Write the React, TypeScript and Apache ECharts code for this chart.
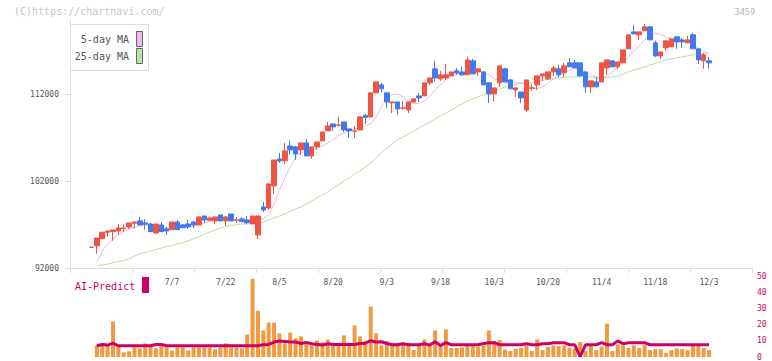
import React, { useEffect, useRef } from "react";
import * as echarts from "echarts";

const dates = [
  "6/16","6/17","6/18","6/19","6/20","6/23","6/24","6/25","6/26","6/27",
  "6/30","7/1","7/2","7/3","7/4","7/7","7/8","7/9","7/10","7/11",
  "7/14","7/15","7/16","7/17","7/18","7/22","7/23","7/24","7/25","7/28",
  "7/29","7/30","7/31","8/1","8/4","8/5","8/6","8/7","8/8","8/12",
  "8/13","8/14","8/15","8/18","8/19","8/20","8/21","8/22","8/25","8/26",
  "8/27","8/28","8/29","9/1","9/2","9/3","9/4","9/5","9/8","9/9",
  "9/10","9/11","9/12","9/16","9/17","9/18","9/19","9/22","9/24","9/25",
  "9/26","9/29","9/30","10/1","10/2","10/3","10/6","10/7","10/8","10/9",
  "10/10","10/14","10/15","10/16","10/17","10/20","10/21","10/22","10/23","10/24",
  "10/27","10/28","10/29","10/30","10/31","11/4","11/5","11/6","11/7","11/10",
  "11/11","11/12","11/13","11/14","11/17","11/18","11/19","11/20","11/21","11/25",
  "11/26","11/27","11/28","12/1","12/2","12/3"
];
const tickLabels = ["7/7","7/22","8/5","8/20","9/3","9/18","10/3","10/20","11/4","11/18","12/3"];
const priceLabels = [92000, 102000, 112000];

const opens = [
  94380,94560,95370,96110,96180,96260,96540,96720,97140,97410,
  97180,97060,96030,96950,96490,96400,97290,96950,97060,97290,
  96950,97980,97490,97410,98100,97410,98210,97490,97640,97520,
  97060,95800,99020,98900,101430,104540,104310,106030,105920,105570,
  106380,104880,105920,106610,107760,108560,108410,108790,107990,107720,
  107870,109540,109370,112130,113050,112130,110980,111090,110370,110170,
  111090,111780,111780,113280,114890,113740,113850,114080,114660,114540,
  114200,115810,114540,114540,113280,112010,113280,114890,113620,112470,
  112240,110170,112670,113050,114080,113740,114540,114890,114430,115580,
  115580,115580,114540,112820,113390,113390,115000,115810,115120,115580,
  117190,119140,118800,119260,119720,117880,116380,117300,117420,118570,
  118220,117880,118800,117190,115810,115810
];
const closes = [
  94400,95450,96110,96260,96370,96600,96600,97180,97290,96950,
  97030,96180,97060,96180,96260,97290,96400,96630,96720,96950,
  97870,97520,97750,97870,97410,97870,97410,97520,97320,97210,
  97980,97980,98670,101660,104420,104310,105460,105570,105110,106380,
  104880,105920,106490,107640,108330,108220,108450,107870,107760,107760,
  109370,109310,112130,113390,112590,111090,111090,110290,110400,111090,
  111440,111550,113280,113850,113850,114200,114200,114540,114430,114200,
  115920,114310,114890,113050,112010,112700,115230,113390,112590,112700,
  111550,113620,112700,114080,114310,114540,115000,114200,115230,115120,
  115000,114080,112820,113510,112820,115580,115920,115120,115690,117070,
  118800,118910,119140,119720,118220,116380,116840,118110,118340,117990,
  117990,118220,117190,115920,116500,115580
];
const lows = [
  94380,93640,95340,95600,95140,95830,96140,96490,96520,96950,
  96400,96140,95910,96180,95800,96400,96400,96600,96490,96600,
  96950,97180,97410,97060,97410,96830,97410,97180,97320,97060,
  97060,95340,98440,98670,100510,104080,103960,105000,104420,105000,
  104880,104540,105570,106610,107760,107760,108220,107640,106950,106950,
  107870,108560,109370,112130,112130,110400,109830,109600,110170,109830,
  110980,111090,111780,113050,113390,113510,113620,114080,114200,114080,
  114200,114310,114080,113050,110980,111090,112820,113390,112590,111670,
  110980,109940,112360,112470,113510,113620,114080,113970,113970,115120,
  115000,114080,112130,112130,112820,113390,114200,115120,114890,115580,
  117190,118910,118220,119260,118220,116270,116040,116960,117420,117190,
  117300,117880,117190,115460,114890,114890
];
const highs = [
  94400,95450,96140,96260,96370,97060,97060,97180,97290,97870,
  97640,97180,97060,97290,96720,97290,97520,97060,97520,97410,
  97870,97980,97870,97870,98100,97980,98210,97870,97870,97980,
  97980,97980,99590,101780,104420,105230,106380,106610,106030,106380,
  106840,105920,106490,107640,108790,108560,109370,108790,107990,108330,
  109370,109710,112240,113390,113280,112130,111090,111090,111210,111090,
  111440,112130,113280,113850,115810,114660,115460,114540,115000,115120,
  116270,116040,114890,114540,113280,112700,115230,115000,113740,112700,
  112240,113620,113160,114080,114310,114540,115230,115350,115580,116150,
  115920,115580,114540,113510,113970,115580,115920,115810,115690,117070,
  118800,119950,119140,120060,119720,118110,116840,118110,118340,118570,
  118450,118680,119030,117190,116730,116270
];

const ma5 = [
  null,92690,93955,94760,95335,95795,96255,96485,96660,96830,
  96945,96890,96770,96660,96600,96600,96600,96660,96715,96830,
  96945,97175,97350,97520,97580,97635,97635,97580,97520,97520,
  97580,97580,97690,98210,99360,100970,102350,103615,104650,105225,
  105455,105630,105800,106030,106375,106720,107180,107525,107810,107985,
  108160,108330,108560,109365,110515,111435,111895,112010,111665,111205,
  110920,110920,111205,111780,112470,113045,113620,113965,114310,114425,
  114540,114600,114715,114540,114195,113735,113560,113390,113275,113275,
  113275,113045,112700,112585,112815,113275,113735,114080,114425,114715,
  115000,114885,114540,114195,113965,113850,114080,114540,115115,115690,
  116265,116955,117530,118220,118680,119025,118795,118565,118335,118220,
  118105,117990,117645,117300,116900,116725
];
const ma25 = [
  null,92230,92345,92460,92575,92750,92860,93035,93380,93610,
  93780,93955,94130,94300,94470,94590,94760,94930,95105,95335,
  95565,95910,96140,96370,96600,96770,96890,97000,97060,97060,
  97120,97175,97290,97520,97750,97980,98210,98500,98785,99015,
  99360,99705,100050,100395,100740,101200,101545,102005,102350,102810,
  103155,103615,104075,104650,105225,105800,106260,106720,107065,107410,
  107755,108100,108445,108790,109135,109480,109825,110170,110515,110860,
  111205,111435,111665,111895,112125,112355,112585,112815,112990,113100,
  113220,113275,113330,113450,113560,113680,113735,113850,113910,113965,
  113965,113965,113965,113910,113850,113850,113910,113965,114080,114310,
  114540,114770,114940,115115,115345,115520,115690,115920,116035,116150,
  116265,116380,116495,116610,116670,116725
];

const volumes = [
  null,7.2,8.0,7.2,22.0,6.4,2.9,3.5,6.0,5.4,
  8.5,6.8,5.4,7.2,6.0,4.1,6.0,6.0,4.1,6.0,
  6.0,6.0,6.0,4.8,6.0,8.5,6.0,6.0,5.4,14.0,
  48.6,28.8,16.5,21.4,21.4,14.6,8.5,15.2,11.5,12.8,
  9.7,7.2,10.3,9.1,10.9,7.2,7.2,13.4,7.2,19.6,
  12.8,9.7,31.3,14.6,7.2,9.9,8.8,8.8,8.8,8.8,
  4.3,7.2,10.9,7.2,16.5,7.2,17.1,5.6,5.6,6.0,
  6.8,7.6,6.4,7.2,16.5,9.9,10.5,4.7,3.7,5.1,
  5.6,7.2,3.7,10.9,4.3,6.2,7.2,6.8,7.2,5.8,
  5.3,9.3,3.7,6.8,4.3,6.4,20.8,3.7,7.8,7.2,
  5.6,7.2,5.6,7.6,4.3,4.9,4.9,2.5,4.3,5.3,
  4.9,4.3,6.8,6.8,5.6,4.3
];
const aiPredict = [
  null,7.0,7.8,7.4,8.6,7.0,7.0,7.0,7.0,7.0,
  7.0,7.0,7.8,7.8,7.0,7.0,7.0,7.0,7.0,7.0,
  7.0,7.0,7.0,7.0,7.0,7.0,7.0,7.0,7.0,7.0,
  7.0,7.0,7.6,7.8,9.3,9.9,9.7,9.3,9.3,8.4,
  9.1,8.2,7.8,7.4,8.2,7.8,7.8,7.8,7.8,7.8,
  8.4,8.6,10.1,9.3,9.5,8.4,7.6,7.6,8.2,7.6,
  7.6,7.6,8.2,7.4,9.5,7.2,8.9,7.6,7.6,7.6,
  7.6,7.6,7.6,8.4,8.9,8.9,7.6,7.6,7.6,7.6,
  7.6,8.2,7.6,7.6,8.2,8.2,8.9,8.9,8.9,7.6,
  7.6,0.2,7.6,7.6,7.6,8.9,7.6,7.6,10.0,8.2,
  8.9,8.9,8.9,8.9,7.6,7.6,7.6,7.6,7.6,7.6,
  7.6,7.6,7.6,7.6,7.6,7.6
];

const LEAD = 4;
const TRAIL = 8;
const Y_MIN = 92000;
const Y_MAX = 120506;
const MONO = "'DejaVu Sans Mono', monospace";

export default function App() {
  const ref = useRef<HTMLDivElement>(null);
  useEffect(() => {
    document.body.style.margin = "0";
    const chart = echarts.init(ref.current!, null, { renderer: "svg" });
    const cats: string[] = [];
    for (let i = 0; i < LEAD; i++) cats.push("");
    dates.forEach((d) => cats.push(d));
    for (let i = 0; i < TRAIL; i++) cats.push(" ".repeat(i + 1));
    const candle = dates.map((d, i) => [i + LEAD, opens[i], closes[i], lows[i], highs[i]]);
    const line = (arr: (number | null)[]) =>
      arr.map((v, i) => [i + LEAD, v]).filter((p) => p[1] !== null);

    chart.setOption({
      animation: false,
      grid: [
        { left: 70, right: 20, top: 20, height: 248 },
        { left: 70, right: 20, top: 276.5, height: 81.2 },
      ],
      xAxis: [
        {
          type: "category", gridIndex: 0, data: cats, boundaryGap: false,
          axisLine: { lineStyle: { color: "#dddddd", width: 1 } },
          axisTick: { show: false },
          splitLine: { show: false },
          axisLabel: {
            interval: (idx: number, val: string) => tickLabels.includes(val),
            color: "#555", fontSize: 8, fontFamily: MONO, margin: 10,
          },
        },
        {
          type: "value", gridIndex: 0, min: 0, max: 11, interval: 1, position: "bottom",
          axisLine: { show: false },
          axisTick: { show: true, length: 5, lineStyle: { color: "#dddddd" } },
          axisLabel: { show: false }, splitLine: { show: false },
        },
        {
          type: "category", gridIndex: 1, data: cats, boundaryGap: false, show: false,
        },
      ],
      yAxis: [
        {
          type: "value", gridIndex: 0, min: Y_MIN, max: Y_MAX, interval: 10000,
          axisLine: { show: true, lineStyle: { color: "#dddddd" } },
          axisTick: { show: true, length: 5, lineStyle: { color: "#dddddd" } },
          splitLine: { show: false },
          axisLabel: {
            color: "#555", fontSize: 8, fontFamily: MONO, margin: 11,
            showMaxLabel: false,
            formatter: (v: number) => (priceLabels.includes(Math.round(v)) ? String(Math.round(v)) : ""),
          },
        },
        { type: "value", gridIndex: 1, min: 0, max: 50, show: false },
        {
          type: "value", gridIndex: 1, min: 0, max: 50, interval: 10, position: "right",
          axisLine: { show: false }, axisTick: { show: false }, splitLine: { show: false },
          axisLabel: { color: "#cc0066", fontSize: 8, fontFamily: MONO, margin: 5 },
        },
      ],
      series: [
        {
          type: "line", xAxisIndex: 0, yAxisIndex: 0, data: line(ma25), showSymbol: false,
          lineStyle: { color: "#b6dca4", width: 1 }, z: 2,
        },
        {
          type: "line", xAxisIndex: 0, yAxisIndex: 0, data: line(ma5), showSymbol: false,
          lineStyle: { color: "#ecb6ec", width: 1 }, z: 2,
        },
        {
          type: "candlestick", xAxisIndex: 0, yAxisIndex: 0, data: candle,
          encode: { x: 0, y: [1, 2, 3, 4] }, barWidth: 5, z: 3,
          itemStyle: {
            color: "#f05443", color0: "#4179ee",
            borderColor: "#f05443", borderColor0: "#4179ee", borderWidth: 1,
          },
        },
        {
          type: "bar", xAxisIndex: 2, yAxisIndex: 1, data: line(volumes), barWidth: 4,
          itemStyle: { color: "#f29a41" }, z: 2,
        },
        {
          type: "line", xAxisIndex: 2, yAxisIndex: 2, data: line(aiPredict), showSymbol: false,
          lineStyle: { color: "#cc0066", width: 3 }, z: 3,
        },
      ],
      graphic: [
        {
          type: "text", left: 14, top: 6,
          style: { text: "(C)https://chartnavi.com/", fill: "#c4c4c4", font: `10px ${MONO}` },
        },
        {
          type: "text", right: 17, top: 7,
          style: { text: "3459", fill: "#b4b4b4", font: `8.5px ${MONO}` },
        },
        {
          type: "rect", shape: { x: 70.5, y: 24.5, width: 78, height: 46 },
          style: { fill: "#fff", stroke: "#dddddd", lineWidth: 1 }, z: 10,
        },
        {
          type: "text", x: 129, y: 39.5, z: 11,
          style: { text: "5-day MA", fill: "#555", font: `10px ${MONO}`, align: "right", verticalAlign: "middle" },
        },
        {
          type: "text", x: 129, y: 56.5, z: 11,
          style: { text: "25-day MA", fill: "#555", font: `10px ${MONO}`, align: "right", verticalAlign: "middle" },
        },
        {
          type: "rect", shape: { x: 136.5, y: 31.5, width: 6, height: 15 }, z: 11,
          style: { fill: "#f0bcf0", stroke: "#666", lineWidth: 1 },
        },
        {
          type: "rect", shape: { x: 136.5, y: 48.5, width: 6, height: 15 }, z: 11,
          style: { fill: "#bce0ac", stroke: "#666", lineWidth: 1 },
        },
        {
          type: "text", x: 75, y: 286, z: 11,
          style: { text: "AI-Predict", fill: "#cc0066", font: `10px ${MONO}`, verticalAlign: "middle" },
        },
        {
          type: "rect", shape: { x: 142, y: 277, width: 7, height: 16 }, z: 11,
          style: { fill: "#cc0066" },
        },
      ],
    });
    return () => chart.dispose();
  }, []);
  return <div ref={ref} style={{ width: 772, height: 361 }} />;
}
